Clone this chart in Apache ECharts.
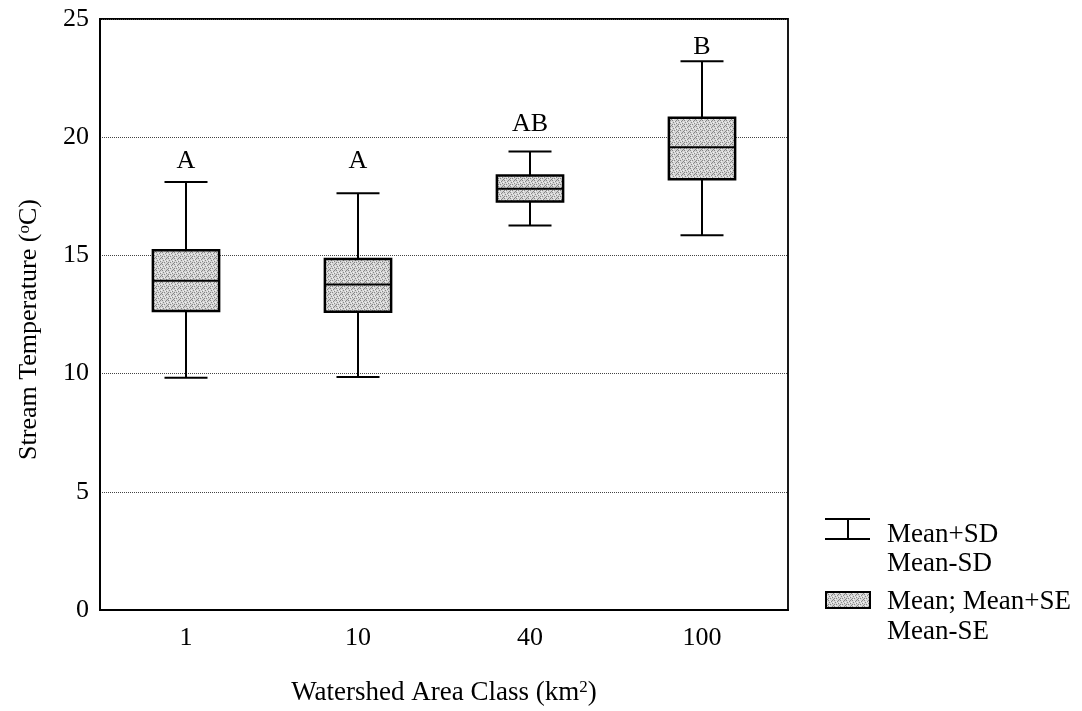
<!DOCTYPE html>
<html>
<head>
<meta charset="utf-8">
<script src="https://cdn.jsdelivr.net/npm/echarts@6/dist/echarts.min.js"></script>
<style>
  html, body { margin: 0; padding: 0; background: #ffffff; }
  #chart { width: 1082px; height: 711px; }
</style>
</head>
<body>
<div id="chart"></div>
<script>
// Watershed area classes (km²)
const categories = ['1', '10', '40', '100'];
// Stream temperature summaries per class (°C)
const meanMinusSD = [9.82, 9.86, 16.27, 15.85];
const meanMinusSE = [12.65, 12.62, 17.28, 18.22];
const means       = [13.93, 13.77, 17.82, 19.57];
const meanPlusSE  = [15.22, 14.85, 18.38, 20.82];
const meanPlusSD  = [18.10, 17.63, 19.39, 23.21];
// Homogeneous-group letters and the temperature level they sit at
const groupLetters = ['A', 'A', 'AB', 'B'];
const letterLevel  = [18.97, 18.97, 20.55, 23.82];
// Value axis range
const yMin = 0, yMax = 25, yStep = 5;

const FONT = '"Liberation Serif", "DejaVu Serif", serif';

// Fine stipple texture for the boxes
function stippleTile() {
  const c = document.createElement('canvas');
  c.width = 6; c.height = 6;
  const g = c.getContext('2d');
  g.fillStyle = '#d4d4d4';
  g.fillRect(0, 0, 6, 6);
  g.fillStyle = '#888888';
  [[0, 0], [3, 1], [1, 2], [4, 3], [2, 4], [5, 5], [0, 4], [4, 0]].forEach(([x, y]) => g.fillRect(x, y, 1, 1));
  g.fillStyle = '#f2f2f2';
  [[2, 1], [5, 2], [1, 5], [3, 3]].forEach(([x, y]) => g.fillRect(x, y, 1, 1));
  return c;
}
const BOX_FILL = { image: stippleTile(), repeat: 'repeat' };

const seriesData = categories.map((c, i) => [
  i, meanMinusSD[i], meanMinusSE[i], means[i], meanPlusSE[i], meanPlusSD[i], letterLevel[i], groupLetters[i]
]);

function renderBox(params, api) {
  const i = api.value(0);
  const x = api.coord([i, 0])[0];
  const y = k => api.coord([i, api.value(k)])[1];
  const band = api.size([1, 0])[0];
  const bw = band * 0.385;
  const cw = band * 0.25;
  const yLoSD = y(1), yLoSE = y(2), yMean = y(3), yHiSE = y(4), yHiSD = y(5), yLetter = y(6);
  const line = { stroke: '#000', lineWidth: 2 };
  return {
    type: 'group',
    children: [
      { type: 'line', shape: { x1: x, y1: yHiSD, x2: x, y2: yHiSE }, style: line },
      { type: 'line', shape: { x1: x, y1: yLoSE, x2: x, y2: yLoSD }, style: line },
      { type: 'line', shape: { x1: x - cw / 2, y1: yHiSD, x2: x + cw / 2, y2: yHiSD }, style: line },
      { type: 'line', shape: { x1: x - cw / 2, y1: yLoSD, x2: x + cw / 2, y2: yLoSD }, style: line },
      { type: 'rect', shape: { x: x - bw / 2, y: yHiSE, width: bw, height: yLoSE - yHiSE },
        style: { fill: BOX_FILL, stroke: '#000', lineWidth: 2.5 } },
      { type: 'line', shape: { x1: x - bw / 2, y1: yMean, x2: x + bw / 2, y2: yMean }, style: line },
      { type: 'text', x: x, y: yLetter,
        style: { text: api.value(7), fill: '#000', font: '26px ' + FONT,
                 align: 'center', verticalAlign: 'middle' } }
    ]
  };
}

const chart = echarts.init(document.getElementById('chart'), null, { renderer: 'canvas' });

const legendFont = '27px ' + FONT;
const legendText = (x, y, text) => ({
  type: 'text', x, y,
  style: { text, font: legendFont, fill: '#000', verticalAlign: 'middle' }
});
const richTitle = (size) => ({
  t: { fontFamily: FONT, fontSize: size, color: '#000', lineHeight: size },
  s: { fontFamily: FONT, fontSize: 17, color: '#000', verticalAlign: 'top', lineHeight: size }
});

chart.setOption({
  backgroundColor: '#ffffff',
  animation: false,
  grid: {
    left: 100, right: 294, top: 19, bottom: 94,
    show: true, borderColor: '#000', borderWidth: 1.8, backgroundColor: 'transparent'
  },
  xAxis: {
    type: 'category',
    data: categories,
    name: '{t|Watershed Area Class (km}{s|2}{t|)}',
    nameLocation: 'middle',
    nameGap: 69,
    nameTextStyle: { rich: richTitle(27) },
    axisLine: { lineStyle: { color: '#000', width: 1.8 } },
    axisTick: { inside: true, length: 6, lineStyle: { color: '#000', width: 1.5 } },
    axisLabel: { fontFamily: FONT, fontSize: 26, color: '#000', margin: 15 },
    splitLine: { show: false }
  },
  yAxis: {
    type: 'value',
    min: yMin, max: yMax, interval: yStep,
    name: '{t|Stream Temperature (}{s|o}{t|C)}',
    nameLocation: 'middle',
    nameGap: 58,
    nameTextStyle: { rich: richTitle(26), padding: [0, 30, 0, 0] },
    axisLine: { show: true, lineStyle: { color: '#000', width: 1.8 } },
    axisTick: { show: false },
    axisLabel: { fontFamily: FONT, fontSize: 26, color: '#000', margin: 11 },
    splitLine: { show: true, lineStyle: { color: '#444', type: 'dotted', width: 1 } }
  },
  series: [{
    type: 'custom',
    renderItem: renderBox,
    encode: { x: 0, y: [1, 2, 3, 4, 5] },
    data: seriesData,
    z: 3
  }],
  graphic: [
    // whisker key
    { type: 'line', shape: { x1: 825, y1: 519, x2: 870, y2: 519 }, style: { stroke: '#000', lineWidth: 2 } },
    { type: 'line', shape: { x1: 848, y1: 519, x2: 848, y2: 539 }, style: { stroke: '#000', lineWidth: 2 } },
    { type: 'line', shape: { x1: 825, y1: 539, x2: 870, y2: 539 }, style: { stroke: '#000', lineWidth: 2 } },
    legendText(887, 535, 'Mean+SD'),
    legendText(887, 564, 'Mean-SD'),
    // box key
    { type: 'rect', shape: { x: 826, y: 592, width: 44, height: 16 },
      style: { fill: BOX_FILL, stroke: '#000', lineWidth: 2 } },
    legendText(887, 602, 'Mean; Mean+SE'),
    legendText(887, 632, 'Mean-SE')
  ]
});
</script>
</body>
</html>
